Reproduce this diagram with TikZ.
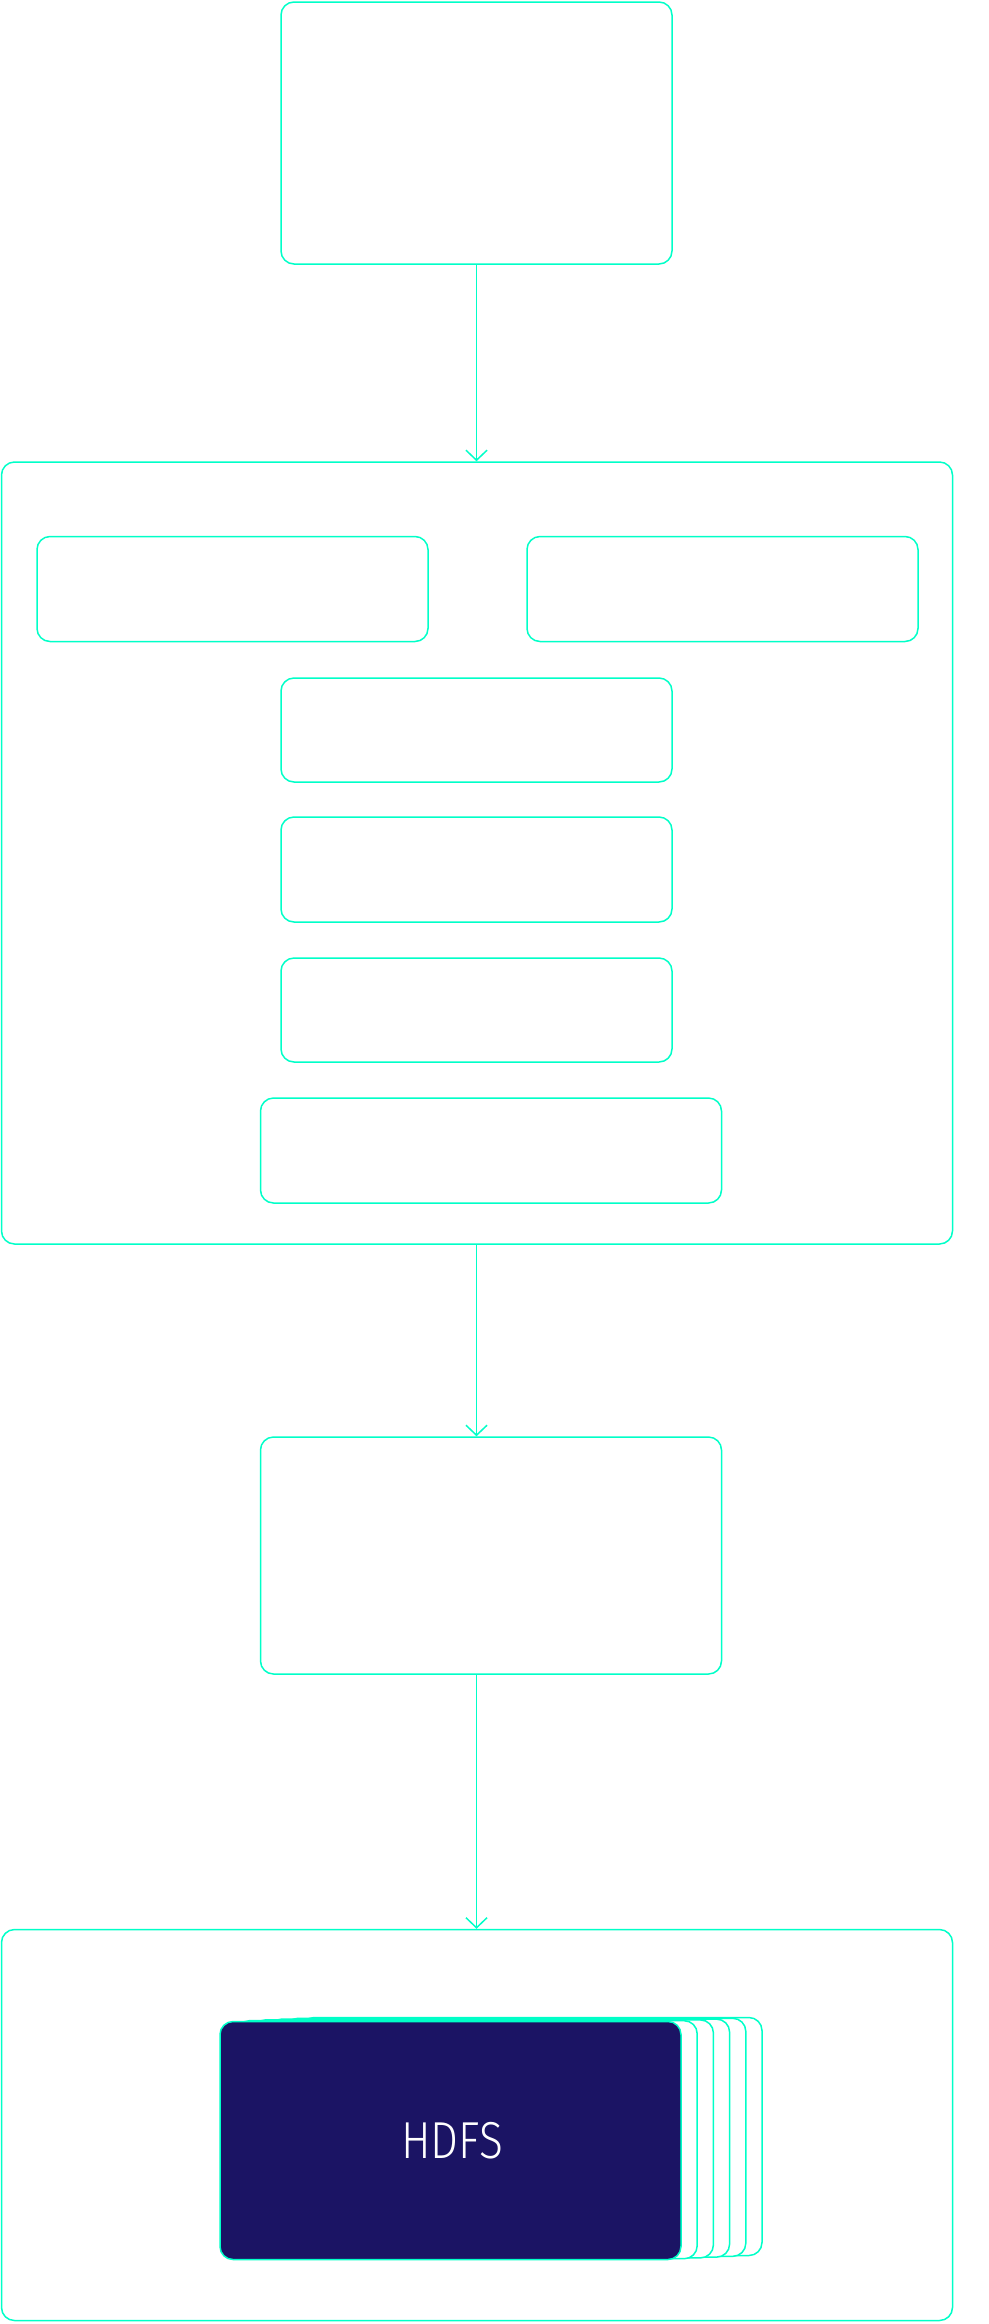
\documentclass[tikz,border=0pt]{standalone}
\usepackage{fontspec}
\newfontfamily\hdfsfont{Fira Sans Light}
\usetikzlibrary{arrows.meta}
\definecolor{mint}{RGB}{0,255,200}
\definecolor{navy}{RGB}{27,20,100}
\tikzset{
  box/.style={draw=mint, line width=1.5pt, rounded corners=13pt, fill=white, inner sep=0pt},
  conn/.style={draw=mint, line width=1.5pt, -{Straight Barb[length=10pt,width=21pt,line width=1.5pt]}},
}
\begin{document}
\begin{tikzpicture}[x=1pt,y=-1pt]
\useasboundingbox (0,0) rectangle (988,2324);
% top box
\node[box, minimum width=391pt, minimum height=262pt] (top) at (476.5,133) {};
% big container 1
\node[box, minimum width=951pt, minimum height=782pt] (big1) at (477,853) {};
\node[box, minimum width=391pt, minimum height=105pt] (a) at (232.5,589) {};
\node[box, minimum width=391pt, minimum height=105pt] (b) at (722.5,589) {};
\node[box, minimum width=391pt, minimum height=104pt] (c) at (476.5,730) {};
\node[box, minimum width=391pt, minimum height=105pt] (d) at (476.5,869.5) {};
\node[box, minimum width=391pt, minimum height=104pt] (e) at (476.5,1010) {};
\node[box, minimum width=461pt, minimum height=105pt] (f) at (491,1150.5) {};
% middle box
\node[box, minimum width=461pt, minimum height=237pt] (mid) at (491,1555.5) {};
% bottom container
\node[box, minimum width=951pt, minimum height=391pt] (big2) at (477,2125) {};
% HDFS stack
\foreach \k in {5,4,3,2,1}{
  \node[box, minimum width=461pt, minimum height=238pt] (s\k) at (450.5+16.2*\k,2140.5-0.8*\k) {};
}
\node[box, fill=navy, minimum width=461pt, minimum height=238pt] (hdfs) at (450.5,2140.5) {};
\node[text=white, font=\hdfsfont\fontsize{52}{60}\selectfont, inner sep=0pt, anchor=base] (hdfslabel) at (452,2158) {\scalebox{0.85}[1]{HDFS}};
% connectors
\coordinate (t1) at (476.5,264);
\draw[conn] (top.south -| t1) -- (big1.north -| t1);
\draw[conn] (big1.south -| t1) -- (mid.north -| t1);
\draw[conn] (mid.south -| t1) -- (big2.north -| t1);
\end{tikzpicture}
\end{document}
